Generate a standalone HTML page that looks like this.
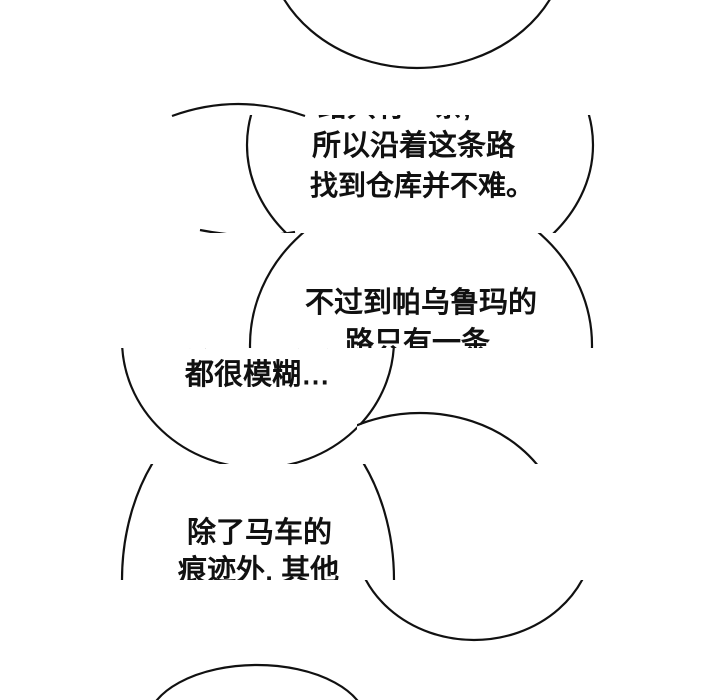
<!DOCTYPE html>
<html><head><meta charset="utf-8"><style>
html,body{margin:0;padding:0;background:#fff;width:720px;height:700px;overflow:hidden;}
svg{display:block;}
text{font-family:"Liberation Sans","Noto Sans CJK SC",sans-serif;font-size:29px;fill:#111;stroke:#111;stroke-width:1;}
</style></head><body>
<svg width="720" height="700" viewBox="0 0 720 700" xmlns="http://www.w3.org/2000/svg">
<defs>
<clipPath id="cA"><rect x="0" y="0" width="720" height="90"/></clipPath>
<clipPath id="cB"><rect x="0" y="115" width="720" height="118"/></clipPath>
<clipPath id="cB2"><rect x="0" y="100" width="720" height="133"/></clipPath>
<clipPath id="cC"><rect x="0" y="233" width="720" height="115"/></clipPath>
<clipPath id="cD1"><polygon points="0,348 720,348 720,420 357,425 357,464 0,464"/></clipPath>
<clipPath id="cD2"><rect x="357" y="348" width="363" height="116"/></clipPath>
<clipPath id="cE"><rect x="0" y="464" width="720" height="116"/></clipPath>
<clipPath id="cF"><rect x="0" y="580" width="720" height="120"/></clipPath>
</defs>
<g fill="none" stroke="#111" stroke-width="2.2">
<g clip-path="url(#cA)"><ellipse cx="417" cy="-60" rx="150" ry="128"/></g>
<g clip-path="url(#cB)">
<ellipse cx="420" cy="145" rx="173" ry="139"/>
<path d="M200,230 Q250,240 295,232"/>
</g>
<g clip-path="url(#cB2)"><path d="M172,116 Q238,92 305,116"/></g>
<g clip-path="url(#cC)"><ellipse cx="421" cy="345" rx="171" ry="155"/></g>
<g clip-path="url(#cD1)"><ellipse cx="258" cy="340" rx="136" ry="128"/></g>
<g clip-path="url(#cD2)"><ellipse cx="420" cy="532" rx="142" ry="119"/></g>
<g clip-path="url(#cE)"><ellipse cx="258" cy="580" rx="136" ry="185"/></g>
<g clip-path="url(#cF)">
<ellipse cx="474" cy="534" rx="120" ry="106"/>
<ellipse cx="257" cy="725" rx="110" ry="60"/>
</g>
</g>
<g clip-path="url(#cB)">
<text x="318" y="116">路只有一条,</text>
<text x="312" y="155">所以沿着这条路</text>
<text x="310" y="195" style="font-size:28px">找到仓库并不难。</text>
</g>
<g clip-path="url(#cC)">
<text x="305" y="312">不过到帕乌鲁玛的</text>
<text x="345" y="352">路只有一条,</text>
</g>
<g clip-path="url(#cD1)">
<text x="180" y="345">接下来的足迹</text>
<text x="185" y="384">都很模糊…</text>
</g>
<g clip-path="url(#cE)">
<text x="187" y="542">除了马车的</text>
<text x="178" y="580">痕迹外, 其他</text>
</g>
</svg>
</body></html>
